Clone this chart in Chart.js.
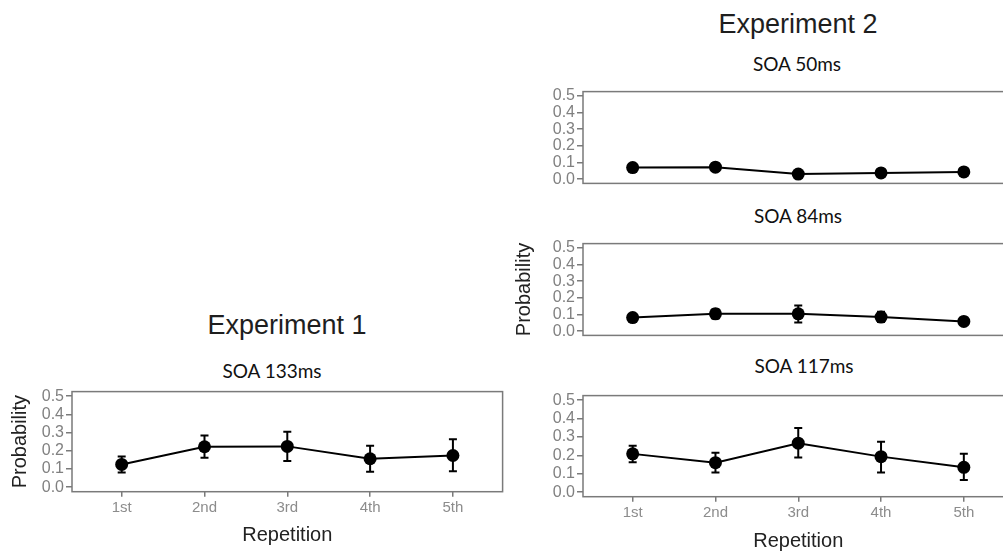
<!DOCTYPE html>
<html><head><meta charset="utf-8">
<script src="https://cdn.jsdelivr.net/npm/chart.js@4.4.0/dist/chart.umd.min.js"></script>
<style>
html,body{margin:0;padding:0;background:#fff;}
body{width:1003px;height:557px;overflow:hidden;position:relative;}
canvas{position:absolute;}
.t{position:absolute;transform:translate(-50%,-50%);white-space:nowrap;line-height:1;}
.big{font-family:"Liberation Sans",Arial,sans-serif;font-size:27px;color:#1e1e1e;}
.sub{font-family:Lato,"Open Sans",sans-serif;font-size:19px;color:#111;}
</style></head><body>
<div class="t big" style="left:287px;top:325px">Experiment 1</div>
<div class="t sub" style="left:272px;top:370px">SOA 133ms</div>
<div class="t big" style="left:798px;top:24px">Experiment 2</div>
<div class="t sub" style="left:797px;top:63px">SOA 50ms</div>
<div class="t sub" style="left:798px;top:215px">SOA 84ms</div>
<div class="t sub" style="left:804px;top:365px">SOA 117ms</div>
<canvas id="c1" width="510" height="175" style="left:0px;top:380px"></canvas>
<canvas id="c2" width="520" height="115" style="left:500px;top:80px"></canvas>
<canvas id="c3" width="520" height="115" style="left:500px;top:232px"></canvas>
<canvas id="c4" width="520" height="171" style="left:500px;top:384px"></canvas>
<script>
// ---- data ----
const categories = ['1st', '2nd', '3rd', '4th', '5th'];
const yTicks = [0, 0.1, 0.2, 0.3, 0.4, 0.5];

const soa133Mean  = [0.125, 0.222, 0.224, 0.156, 0.174];
const soa133Lower = [0.080, 0.162, 0.144, 0.084, 0.087];
const soa133Upper = [0.169, 0.284, 0.304, 0.228, 0.263];

const soa50Mean  = [0.070, 0.072, 0.031, 0.038, 0.044];
const soa50Lower = [0.052, 0.050, 0.024, 0.028, 0.035];
const soa50Upper = [0.088, 0.094, 0.038, 0.048, 0.053];

const soa84Mean  = [0.082, 0.104, 0.104, 0.085, 0.059];
const soa84Lower = [0.062, 0.076, 0.052, 0.056, 0.038];
const soa84Upper = [0.102, 0.132, 0.154, 0.116, 0.080];

const soa117Mean  = [0.208, 0.160, 0.266, 0.193, 0.135];
const soa117Lower = [0.162, 0.106, 0.188, 0.106, 0.066];
const soa117Upper = [0.252, 0.214, 0.349, 0.274, 0.208];

// ---- plugins ----
const errPlugin = {
  id: 'errbars',
  afterDatasetsDraw(chart) {
    const ctx = chart.ctx, xs = chart.scales.x, ys = chart.scales.y;
    chart.data.datasets.forEach(ds => {
      ctx.save();
      ctx.strokeStyle = '#000';
      ctx.lineWidth = 2;
      ds.data.forEach((p, i) => {
        const x = xs.getPixelForValue(p.x);
        const yl = ys.getPixelForValue(ds.errLower[i]);
        const yu = ys.getPixelForValue(ds.errUpper[i]);
        ctx.beginPath();
        ctx.moveTo(x, yl); ctx.lineTo(x, yu);
        ctx.moveTo(x - 4, yl); ctx.lineTo(x + 4, yl);
        ctx.moveTo(x - 4, yu); ctx.lineTo(x + 4, yu);
        ctx.stroke();
      });
      ctx.restore();
    });
  }
};
const boxPlugin = {
  id: 'box',
  afterDraw(chart) {
    const a = chart.chartArea, ctx = chart.ctx;
    ctx.save();
    ctx.strokeStyle = '#7a7a7a';
    ctx.lineWidth = 1.5;
    ctx.strokeRect(a.left, a.top, a.right - a.left, a.bottom - a.top);
    ctx.restore();
  }
};

const tickFont = {family: '"Liberation Sans", Arial, sans-serif', size: 16};
const titleFont = {family: '"Liberation Sans", Arial, sans-serif', size: 20};

function build(id, mean, lower, upper, cfg) {
  const data = mean.map((v, i) => ({x: i + 1, y: v}));
  return new Chart(document.getElementById(id), {
    type: 'line',
    data: {datasets: [{
      data, errLower: lower, errUpper: upper,
      borderColor: '#000', backgroundColor: '#000', borderWidth: 2,
      pointRadius: 6.5, pointBackgroundColor: '#000', pointBorderWidth: 0,
      tension: 0
    }]},
    options: {
      responsive: false, animation: false, devicePixelRatio: 1,
      layout: {padding: {top: cfg.padTop, right: cfg.padRight, left: 0, bottom: 0}},
      plugins: {legend: {display: false}, tooltip: {enabled: false}},
      scales: {
        x: {
          type: 'linear', min: 0.4, max: 5.6,
          afterBuildTicks: s => { s.ticks = categories.map((c, i) => ({value: i + 1})); },
          afterFit: s => { s.height = cfg.xH; },
          ticks: {display: cfg.xLabels, autoSkip: false, maxRotation: 0, padding: 2,
                  color: '#8c8c8c', font: {family: tickFont.family, size: 15},
                  callback: v => categories[Math.round(v) - 1]},
          grid: {display: cfg.xLabels, drawOnChartArea: false, tickLength: 5, color: '#7a7a7a', lineWidth: 1.5},
          border: {display: false},
          title: {display: cfg.xLabels, text: 'Repetition', color: '#222', font: titleFont,
                  padding: {top: 0, bottom: cfg.xTitlePad || 0}}
        },
        y: {
          min: -0.025, max: 0.525,
          afterBuildTicks: s => { s.ticks = yTicks.map(v => ({value: v})); },
          afterFit: s => { s.width = cfg.yW; },
          ticks: {autoSkip: false, padding: 2, color: '#808080', font: tickFont,
                  callback: v => Number(v).toFixed(1)},
          grid: {drawOnChartArea: false, tickLength: 6, color: '#7a7a7a', lineWidth: 1.5},
          border: {display: false},
          title: {display: !!cfg.yTitle, text: 'Probability', color: '#222', font: titleFont,
                  padding: {top: cfg.yTitlePad || 0, bottom: 0}}
        }
      }
    },
    plugins: [errPlugin, boxPlugin]
  });
}

build('c1', soa133Mean, soa133Lower, soa133Upper,
      {padTop: 9, padRight: 7.4, yW: 72, xH: 63.3, xLabels: true, xTitlePad: 8, yTitle: true, yTitlePad: 8});
build('c2', soa50Mean, soa50Lower, soa50Upper,
      {padTop: 6.7, padRight: 6.4, yW: 83, xH: 5, xLabels: false});
build('c3', soa84Mean, soa84Lower, soa84Upper,
      {padTop: 8, padRight: 6.4, yW: 83, xH: 5.3, xLabels: false, yTitle: true, yTitlePad: 12});
build('c4', soa117Mean, soa117Lower, soa117Upper,
      {padTop: 7.7, padRight: 6.4, yW: 83, xH: 58.3, xLabels: true, xTitlePad: 2});
</script>
</body></html>
